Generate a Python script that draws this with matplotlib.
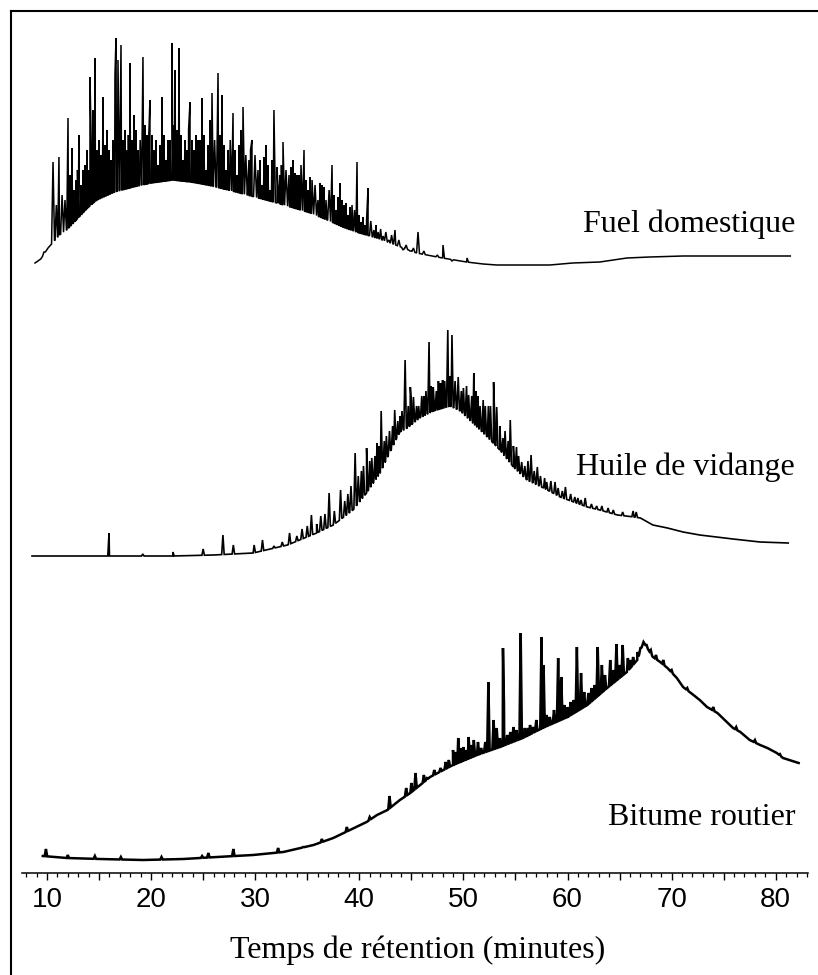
import numpy as np
import matplotlib
matplotlib.use("Agg")
import matplotlib.pyplot as plt
from matplotlib.ticker import MultipleLocator, FuncFormatter
from matplotlib.lines import Line2D
from matplotlib import font_manager

# --- Fuel domestique: baseline hump (t, intensity) and peaks (t, apex) ---
fuel_env_t = [8.85, 9.4, 10.1, 11.2, 11.9, 13.0, 14.0, 14.8, 16.5, 18.3, 20.0, 22.1, 23.8,
              25.4, 27.0, 28.5, 30.3, 32.1, 33.7, 35.3, 36.9, 38.4, 40.0, 41.7, 43.5,
              45.5, 48.0, 50.3, 51.9, 53.2, 58.3, 60.5, 63.1, 65.7, 67.9, 71.1, 75.9, 81.4]
fuel_env_h = [2, 6, 17, 30, 35, 47, 58, 65, 73, 78, 82, 85, 83,
              80, 76, 72, 67, 62, 57, 52, 45, 38, 32, 27, 20,
              12, 7, 3, 1, 0, 0, 2, 3, 7, 8, 9, 9, 9]
fuel_pk_t = [9.71, 10.58, 11.15, 11.73, 12.02, 12.40, 12.79, 13.07, 13.46, 13.84, 14.13,
             14.42, 14.61, 14.99, 15.38, 15.76, 16.15, 16.53, 16.63, 16.82, 17.11, 17.30,
             17.68, 17.97, 18.36, 18.74, 19.22, 19.61, 19.89, 20.28, 20.66, 21.05, 21.43,
             21.82, 22.01, 22.30, 22.68, 23.06, 23.45, 23.74, 24.12, 24.50, 24.89, 25.27,
             25.66, 25.85, 26.43, 26.81, 27.19, 27.39, 27.87, 28.25, 28.64, 28.83, 29.40,
             29.69, 30.27, 30.65, 31.04, 31.42, 31.80, 32.38, 32.67, 33.25, 33.63, 34.01,
             34.40, 34.69, 35.07, 35.46, 36.03, 36.42, 36.80, 37.38, 37.76, 38.15, 38.53,
             38.91, 39.30, 39.78, 40.16, 40.55, 40.84, 41.41, 41.80, 42.28, 42.85, 43.43,
             44.20, 44.87, 45.64, 46.98, 48.04, 48.90, 50.35]
fuel_pk_h = [13, 103, 108, 65, 147, 117, 85, 130, 95, 115, 188,
             155, 207, 125, 168, 135, 105, 190, 227, 205, 220, 125,
             115, 202, 150, 115, 208, 130, 165, 115, 100, 168, 105,
             125, 222, 195, 217, 105, 115, 163, 115, 125, 167, 95,
             145, 172, 192, 170, 95, 115, 152, 90, 135, 158, 105,
             125, 95, 80, 120, 75, 155, 90, 123, 90, 105, 90,
             100, 115, 75, 85, 65, 80, 65, 100, 55, 82, 60,
             50, 60, 103, 43, 40, 77, 35, 33, 29, 25, 35,
             15, 14, 33, 9, 20, 4, 7]
# small unresolved peaks ("grass") on the fuel hump
fuel_grass_t = [10.9, 11.45, 12.2, 12.6, 12.93, 13.27, 13.65, 13.98, 14.27, 14.8, 15.18, 15.57,
                15.95, 16.35, 17.48, 17.82, 18.17, 18.55, 18.95, 19.42, 19.75, 20.08, 20.47,
                20.86, 21.24, 21.62, 22.15, 22.49, 22.87, 23.25, 23.6, 23.93, 24.31, 24.7,
                25.08, 25.47, 26.1, 26.62, 27.0, 27.6, 28.05, 28.45, 29.1, 29.55, 29.98,
                30.45, 30.85, 31.23, 31.6, 32.1, 32.52, 32.96, 33.44, 33.82, 34.2, 34.88,
                35.26, 35.75, 36.22, 36.6, 37.1, 37.57, 37.95, 38.34, 38.72, 39.1, 39.54,
                39.97, 40.36, 40.7, 41.1, 41.6, 42.05, 42.55, 43.1, 43.8, 44.5, 45.2, 46.2, 47.5]
fuel_grass_h = [60, 70, 90, 75, 95, 80, 100, 95, 110, 115, 110, 120,
                115, 125, 135, 130, 125, 135, 125, 140, 120, 130, 125,
                120, 130, 125, 140, 135, 130, 125, 135, 125, 130, 125,
                130, 120, 125, 130, 120, 125, 115, 120, 110, 115, 110,
                105, 108, 100, 105, 98, 100, 95, 98, 92, 90, 85,
                88, 80, 82, 78, 75, 70, 68, 65, 62, 58, 55,
                50, 48, 45, 44, 40, 36, 33, 30, 25, 20, 17, 14, 10]

# --- Huile de vidange ---
huile_env_t = [8.56, 16.0, 22.1, 26.0, 29.8, 33.1, 35.9, 37.5, 39.4, 40.7, 42.0, 43.0,
               43.9, 44.6, 45.8, 47.1, 48.7, 49.7, 50.9, 52.3, 53.5, 54.8, 56.1, 57.7,
               59.3, 61.9, 63.1, 64.8, 66.4, 67.0, 68.2, 69.6, 71.1, 72.7, 75.9, 78.5, 81.2]
huile_env_h = [0, 0, 0, 1, 3, 11, 23, 31, 46, 63, 83, 105,
               124, 128, 138, 145, 150, 145, 133, 119, 106, 89, 76, 68,
               59, 49, 46, 41, 39, 38, 31, 28, 24, 21, 17, 14, 13]
huile_pk_t = [15.96, 19.2, 22.1, 25.0, 26.9, 27.9, 29.9, 30.7, 33.3, 34.5, 35.4, 36.3,
              37.1, 38.2, 38.9, 39.6, 40.2, 40.7, 41.2, 41.7, 42.1, 42.6, 43.4, 43.9,
              44.4, 44.9, 45.2, 45.7, 46.2, 46.7, 47.1, 47.8, 48.0, 48.5, 48.9, 49.5,
              50.0, 50.5, 51.0, 51.4, 51.9, 52.4, 52.9, 53.2, 53.8, 54.5, 55.1, 55.6,
              56.5, 57.1, 58.0, 58.8, 59.8, 60.7, 61.7, 63.9, 64.4]
huile_pk_h = [23, 2, 4, 7, 21, 11, 11, 16, 23, 27, 41, 40,
              63, 66, 62, 103, 85, 108, 98, 113, 145, 120, 146, 140,
              196, 169, 159, 150, 160, 214, 169, 173, 176, 226, 221, 179,
              168, 161, 183, 160, 156, 150, 174, 149, 118, 136, 109, 94,
              101, 89, 74, 74, 69, 59, 58, 48, 46]
huile_grass_t = [31.8, 32.6, 34.0, 35.0, 35.9, 36.7, 37.6, 38.6, 39.2, 39.9, 40.4, 41.0,
                 41.5, 41.9, 42.4, 42.9, 43.2, 43.7, 44.1, 44.7, 45.0, 45.5, 46.0, 46.4,
                 46.9, 47.4, 47.6, 48.2, 48.7, 49.2, 49.8, 50.3, 50.8, 51.2, 51.6, 52.1,
                 52.6, 53.0, 53.5, 54.0, 54.3, 54.8, 55.3, 55.9, 56.2, 56.8, 57.4, 57.8,
                 58.4, 59.1, 59.5, 60.3, 61.0, 61.3, 62.3, 62.8, 63.3, 65.3, 66.3, 66.6]
huile_grass_h = [10, 14, 20, 30, 32, 42, 45, 55, 70, 80, 90, 95,
                 100, 110, 115, 125, 130, 135, 145, 150, 155, 150, 160, 165,
                 170, 165, 175, 175, 180, 175, 165, 170, 160, 165, 150, 150,
                 150, 140, 130, 125, 115, 110, 100, 90, 95, 85, 80, 78,
                 75, 68, 65, 62, 58, 56, 52, 50, 50, 44, 45, 44]

# --- Bitume routier ---
bitume_env_t = [9.6, 11.9, 15.1, 19.2, 23.1, 26.3, 29.8, 32.7, 35.6, 37.5, 39.1, 40.7,
                41.7, 42.7, 43.9, 44.9, 46.8, 49.0, 51.3, 53.5, 55.7, 57.6, 60.0, 61.9,
                63.8, 65.7, 66.7, 67.3, 68.2, 68.9, 69.6, 70.5, 71.1, 72.1, 72.7, 73.4,
                74.4, 75.3, 75.9, 76.6, 77.5, 78.5, 79.2, 80.1, 80.7, 82.2]
bitume_env_h = [4, 2, 1, 0, 1, 3, 5, 8, 15, 22, 30, 38,
                45, 50, 60, 67, 83, 95, 105, 113, 122, 132, 143, 155,
                172, 188, 200, 218, 203, 198, 192, 182, 173, 165, 160, 153,
                147, 138, 132, 128, 120, 115, 112, 107, 102, 97]
bitume_pk_t = [9.9, 12.0, 14.6, 17.1, 21.0, 24.9, 25.5, 27.9, 32.2, 34.6, 36.4, 38.8,
               41.0, 42.9, 45.0, 45.4, 47.8, 49.0, 49.5, 50.0, 50.5, 51.0, 51.4, 52.4,
               52.9, 53.2, 53.8, 53.9, 54.8, 55.5, 55.9, 56.7, 57.5, 57.7, 58.3, 59.1,
               59.4, 60.0, 60.9, 61.3, 62.0, 62.9, 63.3, 64.1, 64.7, 65.3, 65.8, 66.7]
bitume_pk_h = [11, 5, 4, 3, 3, 4, 7, 11, 12, 13, 21, 33,
               43, 64, 77, 87, 92, 110, 122, 113, 123, 120, 118, 178,
               140, 132, 212, 155, 133, 227, 132, 133, 223, 195, 143, 202,
               183, 153, 213, 187, 167, 213, 195, 200, 216, 215, 202, 208]
bitume_grass_t = [44.5, 46.2, 46.5, 47.2, 48.3, 48.6, 49.3, 49.8, 50.3, 50.8, 51.7, 52.1,
                  53.5, 54.2, 54.5, 55.1, 56.2, 56.4, 57.0, 58.0, 58.7, 59.7, 60.3, 60.6,
                  61.6, 62.3, 62.6, 63.6, 64.4, 65.0, 66.0, 66.3, 67.0, 67.6, 68.0, 68.5,
                  69.2, 70.0, 71.5, 74.0, 76.2, 78.0, 80.4]
bitume_grass_h = [72, 85, 82, 90, 98, 100, 108, 112, 110, 115, 112, 118,
                  122, 125, 128, 130, 132, 135, 140, 145, 150, 155, 158, 160,
                  168, 172, 175, 185, 190, 195, 200, 203, 212, 215, 210, 205,
                  200, 190, 172, 153, 133, 120, 106]

labels = ["Fuel domestique", "Huile de vidange", "Bitume routier"]
x_ticks = [10, 20, 30, 40, 50, 60, 70, 80]


def build_trace(env_t, env_h, pk_t, pk_h, half):
    t = list(env_t)
    h = list(env_h)
    for pt, ph in zip(pk_t, pk_h):
        for dt in (-half, half):
            t.append(pt + dt)
            h.append(np.interp(pt + dt, env_t, env_h))
        t.append(pt)
        h.append(ph)
    order = np.argsort(t, kind="stable")
    return np.asarray(t)[order], np.asarray(h)[order]


names = {f.name for f in font_manager.fontManager.ttflist}
tick_font = "Liberation Sans Narrow" if "Liberation Sans Narrow" in names else "Liberation Sans"

W, H = 818, 975
fig = plt.figure(figsize=(W / 100, H / 100), dpi=100)
ax = fig.add_axes([22 / W, (H - 873) / H, (808 - 22) / W, (873 - 11) / H])
ax.set_xlim(7.6, 83.1)
ax.set_ylim(0, 862)

traces = [
    (build_trace(fuel_env_t, fuel_env_h, fuel_pk_t + fuel_grass_t, fuel_pk_h + fuel_grass_h, 0.14),
     608, 1.1, 232),
    (build_trace(huile_env_t, huile_env_h, huile_pk_t + huile_grass_t, huile_pk_h + huile_grass_h, 0.12),
     317, 1.2, 475),
    (build_trace(bitume_env_t, bitume_env_h, bitume_pk_t + bitume_grass_t, bitume_pk_h + bitume_grass_h, 0.12),
     13, 1.8, 825),
]
for (t, h), off, lw, _ in traces:
    ax.plot(t, h + off, color="black", lw=lw, solid_joinstyle="miter")

for lab, (_, _, _, base_px) in zip(labels, traces):
    fig.text(795 / W, 1 - base_px / H, lab, ha="right", va="baseline",
             family="Liberation Serif", fontsize=23)

for s in ["left", "right", "top"]:
    ax.spines[s].set_visible(False)
ax.spines["bottom"].set_linewidth(1.1)
ax.set_yticks([])
ax.xaxis.set_major_locator(MultipleLocator(5))
ax.xaxis.set_minor_locator(MultipleLocator(1))
ax.xaxis.set_major_formatter(FuncFormatter(lambda v, p: f"{v:.0f}" if int(round(v)) in x_ticks else ""))
ax.tick_params(axis="x", which="major", length=5, width=1.0, pad=5, labelsize=20)
ax.tick_params(axis="x", which="minor", length=3, width=0.9)
for lbl in ax.get_xticklabels():
    lbl.set_family(tick_font)

fig.text(418 / W, 1 - 958 / H, "Temps de rétention (minutes)", ha="center", va="baseline",
         family="Liberation Serif", fontsize=23)

# frame (only top and left edges are visible in the crop)
fig.add_artist(Line2D([11 / W, 1.0], [1 - 11 / H, 1 - 11 / H], color="black", lw=1.5))
fig.add_artist(Line2D([11 / W, 11 / W], [1 - 11 / H, 0.0], color="black", lw=1.5))

fig.savefig("out.png", dpi=100)
